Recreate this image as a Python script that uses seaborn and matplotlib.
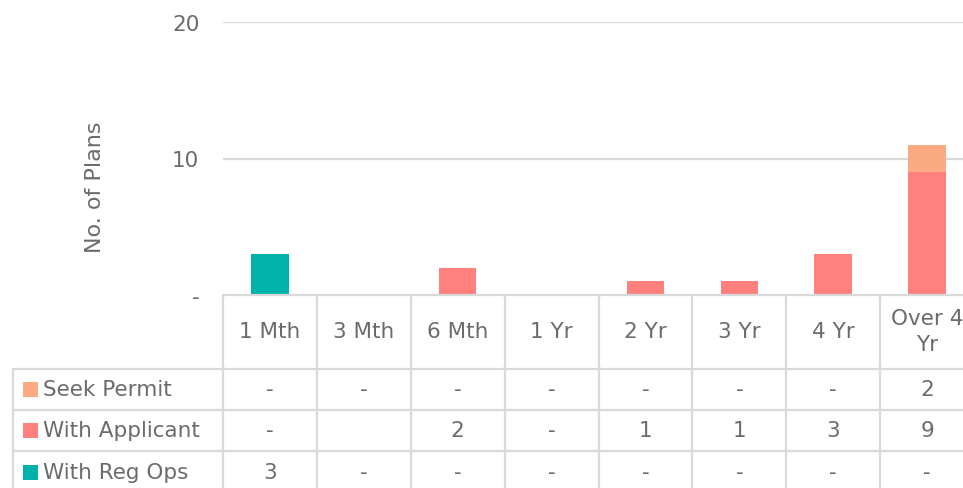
import numpy as np
import pandas as pd
import matplotlib
matplotlib.use("Agg")
import matplotlib.pyplot as plt
import matplotlib.transforms as mtransforms
import seaborn as sns

categories = ["1 Mth", "3 Mth", "6 Mth", "1 Yr", "2 Yr", "3 Yr", "4 Yr", "Over 4 Yr"]
header_labels = ["1 Mth", "3 Mth", "6 Mth", "1 Yr", "2 Yr", "3 Yr", "4 Yr", "Over 4\nYr"]
series_names = ["Seek Permit", "With Applicant", "With Reg Ops"]
seek_permit = [0, 0, 0, 0, 0, 0, 0, 2]
with_applicant = [0, None, 2, 0, 1, 1, 3, 9]
with_reg_ops = [3, 0, 0, 0, 0, 0, 0, 0]
y_ticks = [0, 10, 20]
y_tick_labels = ["-", "10", "20"]

colors = {"Seek Permit": "#FCAA82", "With Applicant": "#FF807D", "With Reg Ops": "#00B2A9"}

sns.set_theme(style="white")
plt.rcParams["font.family"] = ["DejaVu Sans"]
TXT = "#6B6B6B"
GRID = "#D9D9D9"
FS = 15.5

W, H = 963, 489
fig = plt.figure(figsize=(W / 100, H / 100), dpi=100)


def fx(x):
    return x / W


def fy(y):
    return 1 - y / H


ax = fig.add_axes([fx(223), fy(296), fx(974) - fx(223), fy(23) - fy(296)])

df = pd.DataFrame({
    "cat": categories,
    "Seek Permit": np.array(seek_permit, dtype=float),
    "With Applicant": np.array([np.nan if v is None else v for v in with_applicant], dtype=float),
    "With Reg Ops": np.array(with_reg_ops, dtype=float),
})
vals = df[["With Reg Ops", "With Applicant", "Seek Permit"]].fillna(0)
bottom = np.zeros(len(categories))
for name in ["With Reg Ops", "With Applicant", "Seek Permit"]:
    sns.barplot(x=df["cat"], y=vals[name], order=categories, color=colors[name],
                saturation=1, width=0.4, bottom=bottom, ax=ax, linewidth=0)
    bottom = bottom + vals[name].values

ax.set_xlim(-0.5, len(categories) - 0.5)
ax.set_ylim(0, 20)
ax.set_yticks(y_ticks)
ax.set_yticklabels(y_tick_labels, color=TXT, fontsize=FS)
ax.tick_params(axis="y", length=0, pad=17)
ax.set_xticks([])
ax.set_xlabel("")
ax.set_ylabel("No. of Plans", color=TXT, fontsize=16)
ax.yaxis.set_label_coords(-0.157, 0.40)
for s in ["top", "right", "left"]:
    ax.spines[s].set_visible(False)
ax.spines["bottom"].set_color(GRID)
ax.spines["bottom"].set_linewidth(1.6)
for t in [10, 20]:
    ax.axhline(t, color=GRID, lw=1.6, zorder=0)

# data table
tr = mtransforms.blended_transform_factory(ax.transData, fig.transFigure)
row_edges = [297, 370, 411, 452, 495]
lw = 1.6
for i in range(len(categories) + 1):
    ax.plot([i - 0.5, i - 0.5], [fy(297), fy(495)], transform=tr, color=GRID, lw=lw, clip_on=False)
for y in row_edges[1:]:
    fig.add_artist(plt.Line2D([fx(13), fx(974)], [fy(y), fy(y)], color=GRID, lw=lw))
fig.add_artist(plt.Line2D([fx(13), fx(13)], [fy(370), fy(495)], color=GRID, lw=lw))

for i, lab in enumerate(header_labels):
    ax.text(i, fy(332), lab, transform=tr, ha="center", va="center", color=TXT,
            fontsize=FS, linespacing=1.4)

rows = [seek_permit, with_applicant, with_reg_ops]
for r, (name, data) in enumerate(zip(series_names, rows)):
    yc = (row_edges[r + 1] + row_edges[r + 2]) / 2
    fig.add_artist(plt.Rectangle((fx(23), fy(yc + 7.5)), fx(15), 15 / H,
                                 color=colors[name], lw=0))
    fig.text(fx(43), fy(yc), name, ha="left", va="center", color=TXT, fontsize=FS)
    for i, v in enumerate(data):
        if v is None:
            continue
        s = "-" if v == 0 else str(v)
        ax.text(i, fy(yc), s, transform=tr, ha="center", va="center", color=TXT, fontsize=FS)

fig.savefig("out.png", dpi=100)
